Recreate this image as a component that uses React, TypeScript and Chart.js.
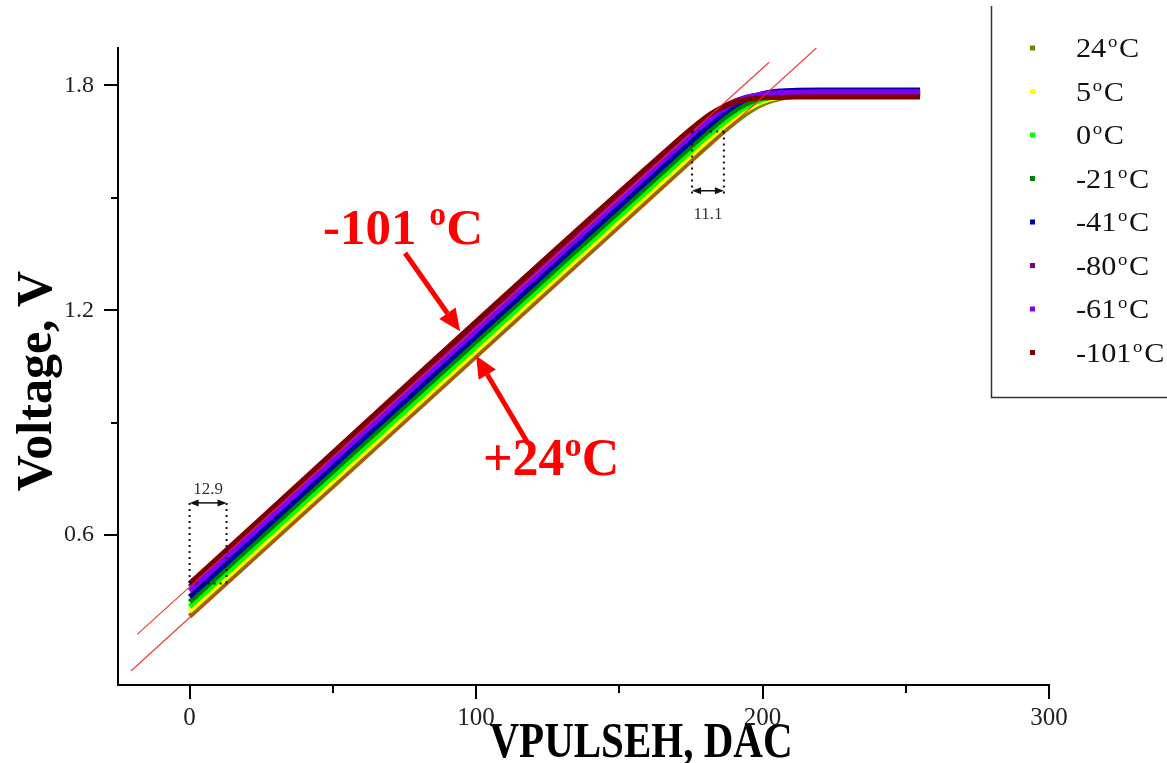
import { useEffect, useRef } from 'react';
import { Chart, registerables } from 'chart.js';

Chart.register(...registerables);

// DAC code at which each temperature curve is sampled
const dacSteps = [0, 170, 176, 182, 188, 194, 200, 206, 212, 220, 255];

// Output voltage (V) per temperature, sampled at dacSteps
const volts24 = [0.383, 1.564, 1.606, 1.647, 1.687, 1.723, 1.75, 1.765, 1.772, 1.774, 1.775];
const volts5 = [0.397, 1.578, 1.62, 1.661, 1.7, 1.733, 1.757, 1.769, 1.774, 1.775, 1.776];
const volts0 = [0.409, 1.59, 1.632, 1.672, 1.71, 1.742, 1.762, 1.772, 1.775, 1.777, 1.777];
const voltsM21 = [0.422, 1.603, 1.644, 1.684, 1.721, 1.75, 1.767, 1.774, 1.777, 1.778, 1.778];
const voltsM41 = [0.435, 1.616, 1.657, 1.697, 1.734, 1.762, 1.778, 1.785, 1.787, 1.788, 1.788];
const voltsM80 = [0.462, 1.643, 1.683, 1.72, 1.75, 1.768, 1.776, 1.779, 1.78, 1.78, 1.78];
const voltsM61 = [0.451, 1.632, 1.673, 1.711, 1.744, 1.766, 1.777, 1.781, 1.782, 1.783, 1.783];
const voltsM101 = [0.471, 1.651, 1.69, 1.725, 1.749, 1.762, 1.767, 1.768, 1.769, 1.769, 1.769];

const seriesTemps = ['24', '5', '0', '-21', '-41', '-80', '-61', '-101'];
const seriesValues = [volts24, volts5, volts0, voltsM21, voltsM41, voltsM80, voltsM61, voltsM101];
const seriesColors = ['#808000', '#ffff00', '#00ff00', '#008000', '#0000a0', '#800080', '#8000ff', '#800000'];

// Linear-fit guide lines for the warmest and coldest curves
const guideLowDac = [-20.4, 218.8];
const guideLowVolts = [0.238, 1.9];
const guideHighDac = [-18.3, 202.3];
const guideHighVolts = [0.335, 1.862];

// Axis ticks
const xMajorTicks = [0, 100, 200, 300];
const xMinorTicks = [50, 150, 250];
const yMajorTicks = [0.6, 1.2, 1.8];
const yMinorTicks = [0.9, 1.5];

// DAC offset between the curves at the bottom and near the knee
const offsetLow = 12.9;
const offsetHigh = 11.1;

const SERIF = '"Liberation Serif", "Times New Roman", serif';

function degreeText(
  ctx: CanvasRenderingContext2D,
  pre: string,
  x: number,
  baseline: number,
  size: number,
  bold: boolean,
  color: string,
  supRatio = 0.62,
  sx = 1,
  supGap = 0
) {
  const w = bold ? 'bold ' : '';
  ctx.save();
  ctx.translate(x, baseline);
  ctx.scale(sx, 1);
  ctx.fillStyle = color;
  ctx.textAlign = 'left';
  ctx.textBaseline = 'alphabetic';
  ctx.font = `${w}${size}px ${SERIF}`;
  ctx.fillText(pre, 0, 0);
  let cx = ctx.measureText(pre).width + supGap;
  const sup = size * supRatio;
  ctx.font = `${w}${sup}px ${SERIF}`;
  ctx.fillText('o', cx, -size * 0.37);
  cx += ctx.measureText('o').width + supGap;
  ctx.font = `${w}${size}px ${SERIF}`;
  ctx.fillText('C', cx, 0);
  ctx.restore();
}

function redArrow(ctx: CanvasRenderingContext2D, x0: number, y0: number, x1: number, y1: number) {
  const ang = Math.atan2(y1 - y0, x1 - x0);
  const head = 22;
  const half = 10;
  const bx = x1 - head * Math.cos(ang);
  const by = y1 - head * Math.sin(ang);
  ctx.save();
  ctx.strokeStyle = '#ff0000';
  ctx.fillStyle = '#ff0000';
  ctx.lineWidth = 5;
  ctx.beginPath();
  ctx.moveTo(x0, y0);
  ctx.lineTo(bx, by);
  ctx.stroke();
  ctx.beginPath();
  ctx.moveTo(x1, y1);
  ctx.lineTo(bx + half * Math.sin(ang), by - half * Math.cos(ang));
  ctx.lineTo(bx - half * Math.sin(ang), by + half * Math.cos(ang));
  ctx.closePath();
  ctx.fill();
  ctx.restore();
}

function dimension(
  ctx: CanvasRenderingContext2D,
  x1: number,
  x2: number,
  yA: number,
  yB: number,
  yLink: number,
  yArrow: number,
  label: string,
  labelBase: number
) {
  ctx.save();
  ctx.strokeStyle = '#111';
  ctx.lineWidth = 2;
  ctx.setLineDash([2, 4]);
  ctx.beginPath();
  ctx.moveTo(x1, yA);
  ctx.lineTo(x1, yB);
  ctx.moveTo(x2, yA);
  ctx.lineTo(x2, yB);
  ctx.moveTo(x1, yLink);
  ctx.lineTo(x2, yLink);
  ctx.stroke();
  ctx.setLineDash([]);
  ctx.lineWidth = 1.5;
  ctx.beginPath();
  ctx.moveTo(x1 + 6, yArrow);
  ctx.lineTo(x2 - 6, yArrow);
  ctx.stroke();
  ctx.fillStyle = '#111';
  const h = 9;
  const hw = 3.5;
  ctx.beginPath();
  ctx.moveTo(x1, yArrow);
  ctx.lineTo(x1 + h, yArrow - hw);
  ctx.lineTo(x1 + h, yArrow + hw);
  ctx.closePath();
  ctx.moveTo(x2, yArrow);
  ctx.lineTo(x2 - h, yArrow - hw);
  ctx.lineTo(x2 - h, yArrow + hw);
  ctx.closePath();
  ctx.fill();
  ctx.font = `17px ${SERIF}`;
  ctx.fillStyle = '#333';
  ctx.textAlign = 'center';
  ctx.textBaseline = 'alphabetic';
  ctx.fillText(label, (x1 + x2) / 2, labelBase);
  ctx.restore();
}

const overlayPlugin = {
  id: 'overlay',
  afterDatasetsDraw(chart: any) {
    const { ctx } = chart;
    const xs = chart.scales.x;
    const ys = chart.scales.y;
    const px = (d: number) => xs.getPixelForValue(d);
    const py = (v: number) => ys.getPixelForValue(v);

    // offset markers
    dimension(ctx, px(0), px(offsetLow), py(0.686), py(0.471), py(0.471), py(0.686), String(offsetLow), py(0.709));
    const kneeLeft = 175.4;
    dimension(ctx, px(kneeLeft), px(kneeLeft + offsetHigh), py(1.677), py(1.508), py(1.677), py(1.519), String(offsetHigh), py(1.444));

    // temperature call-outs
    redArrow(ctx, px(75.2), py(1.353), px(94.4), py(1.144));
    redArrow(ctx, px(118.2), py(0.844), px(100), py(1.079));
    degreeText(ctx, '-101 ', px(46.6), py(1.377), 51, true, '#ff0000', 0.66);
    degreeText(ctx, '+24', px(102.4), py(0.761), 52, true, '#ff0000', 0.66);
  },
  afterDraw(chart: any) {
    const { ctx } = chart;
    const xs = chart.scales.x;
    const ys = chart.scales.y;
    const area = chart.chartArea;
    ctx.save();
    ctx.strokeStyle = '#000';
    ctx.lineWidth = 2;
    ctx.beginPath();
    for (const v of yMajorTicks) {
      const p = Math.round(ys.getPixelForValue(v));
      ctx.moveTo(area.left - 14, p);
      ctx.lineTo(area.left, p);
    }
    for (const v of yMinorTicks) {
      const p = Math.round(ys.getPixelForValue(v));
      ctx.moveTo(area.left - 7, p);
      ctx.lineTo(area.left, p);
    }
    for (const v of xMajorTicks) {
      const p = Math.round(xs.getPixelForValue(v));
      ctx.moveTo(p, area.bottom);
      ctx.lineTo(p, area.bottom + 14);
    }
    for (const v of xMinorTicks) {
      const p = Math.round(xs.getPixelForValue(v));
      ctx.moveTo(p, area.bottom);
      ctx.lineTo(p, area.bottom + 8);
    }
    ctx.stroke();

    // axis titles
    ctx.fillStyle = '#000';
    ctx.font = `bold 50px ${SERIF}`;
    ctx.textAlign = 'center';
    ctx.textBaseline = 'alphabetic';
    ctx.save();
    ctx.translate(51, 381);
    ctx.rotate(-Math.PI / 2);
    ctx.fillText('Voltage, V', 0, 0);
    ctx.restore();
    ctx.save();
    ctx.translate(641, 757);
    ctx.scale(0.82, 1);
    ctx.fillText('VPULSEH, DAC', 0, 0);
    ctx.restore();

    // legend box
    ctx.strokeStyle = '#333';
    ctx.lineWidth = 1.5;
    ctx.beginPath();
    ctx.moveTo(991.5, 6);
    ctx.lineTo(991.5, 397.5);
    ctx.lineTo(1167, 397.5);
    ctx.stroke();
    seriesTemps.forEach((t, i) => {
      const cy = 48 + i * 43.5;
      ctx.fillStyle = seriesColors[i];
      ctx.fillRect(1030, cy - 2.5, 5, 5);
      degreeText(ctx, t, 1076, cy + 9, 27, false, '#111', 0.62, 1.12, 1.5);
    });
    ctx.restore();
  },
};

export default function App() {
  const ref = useRef<HTMLCanvasElement>(null);

  useEffect(() => {
    if (!ref.current) return;
    const datasets: any[] = seriesValues.map((vals, i) => ({
      label: `${seriesTemps[i]}°C`,
      data: dacSteps.map((d, k) => ({ x: d, y: vals[k] })),
      borderColor: seriesColors[i],
      backgroundColor: seriesColors[i],
      borderWidth: 5,
      pointRadius: 0,
      showLine: true,
      cubicInterpolationMode: 'monotone',
      order: seriesTemps.length - i,
    }));
    datasets.push(
      {
        label: 'fit-low',
        data: guideLowDac.map((d, k) => ({ x: d, y: guideLowVolts[k] })),
        borderColor: 'rgba(235,40,40,0.9)',
        borderWidth: 1.2,
        pointRadius: 0,
        showLine: true,
        order: 0,
      },
      {
        label: 'fit-high',
        data: guideHighDac.map((d, k) => ({ x: d, y: guideHighVolts[k] })),
        borderColor: 'rgba(235,40,40,0.9)',
        borderWidth: 1.2,
        pointRadius: 0,
        showLine: true,
        order: 0,
      }
    );

    const chart = new Chart(ref.current, {
      type: 'scatter',
      data: { datasets },
      plugins: [overlayPlugin],
      options: {
        animation: false,
        responsive: false,
        devicePixelRatio: 1,
        layout: { padding: { top: 48, right: 118, left: 0, bottom: 0 } },
        plugins: { legend: { display: false }, tooltip: { enabled: false } },
        scales: {
          x: {
            type: 'linear',
            min: -25,
            max: 300,
            afterBuildTicks: (scale: any) => {
              scale.ticks = [...xMajorTicks, ...xMinorTicks].sort((a, b) => a - b).map((v) => ({ value: v }));
            },
            afterFit: (scale: any) => {
              scale.height = 78;
            },
            grid: { display: false, drawTicks: true, tickLength: 14 },
            border: { display: true, color: '#000', width: 2 },
            ticks: {
              autoSkip: false,
              maxRotation: 0,
              padding: 4,
              color: '#222',
              font: { family: SERIF, size: 25 },
              callback: (v: any) => (xMajorTicks.includes(Number(v)) ? String(v) : ''),
            },
          },
          y: {
            type: 'linear',
            min: 0.2,
            max: 1.9,
            afterBuildTicks: (scale: any) => {
              scale.ticks = [...yMajorTicks, ...yMinorTicks].sort((a, b) => a - b).map((v) => ({ value: v }));
            },
            afterFit: (scale: any) => {
              scale.width = 118;
            },
            grid: { display: false, drawTicks: true, tickLength: 14 },
            border: { display: true, color: '#000', width: 2 },
            ticks: {
              autoSkip: false,
              padding: 10,
              color: '#222',
              font: { family: SERIF, size: 24 },
              callback: (v: any) => (yMajorTicks.includes(Number(v)) ? Number(v).toFixed(1) : ''),
            },
          },
        },
      },
    });
    return () => chart.destroy();
  }, []);

  return (
    <div style={{ position: 'fixed', left: 0, top: 0, width: 1167, height: 763, background: '#fff' }}>
      <canvas ref={ref} width={1167} height={763} style={{ width: 1167, height: 763, display: 'block' }} />
    </div>
  );
}
